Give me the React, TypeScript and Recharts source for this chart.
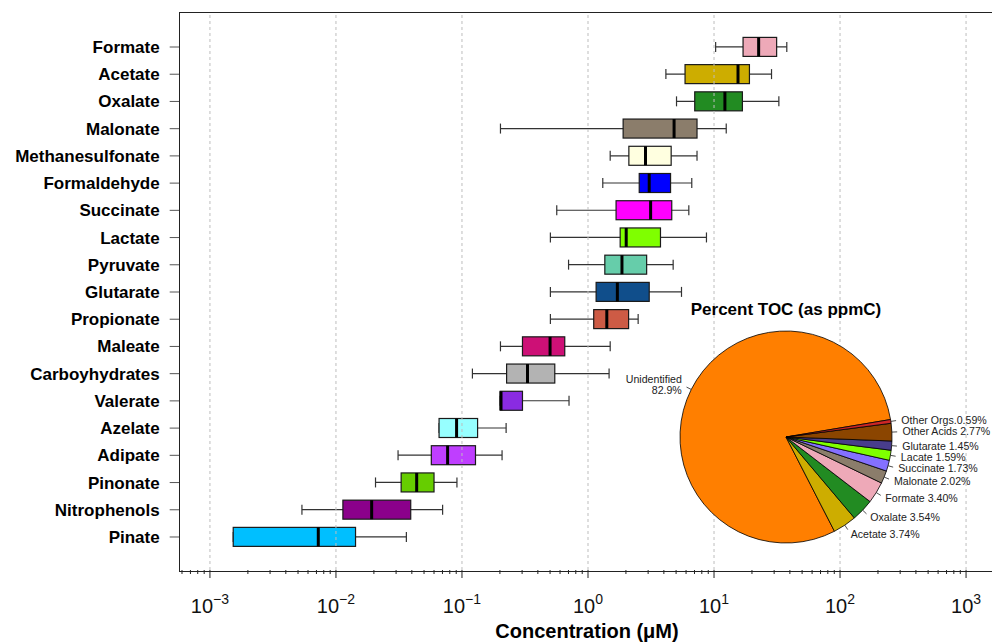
import React from "react";
import {
  Bar,
  Cell,
  ComposedChart,
  Pie,
  PieChart,
  ReferenceLine,
  XAxis,
  YAxis,
} from "recharts";

const FONT = '"Liberation Sans", Arial, Helvetica, sans-serif';

// Box plot statistics per compound (µM), top row first
const compounds = [
  "Formate",
  "Acetate",
  "Oxalate",
  "Malonate",
  "Methanesulfonate",
  "Formaldehyde",
  "Succinate",
  "Lactate",
  "Pyruvate",
  "Glutarate",
  "Propionate",
  "Maleate",
  "Carboyhydrates",
  "Valerate",
  "Azelate",
  "Adipate",
  "Pinonate",
  "Nitrophenols",
  "Pinate",
];
const whiskerLow = [
  10.3, 4.15, 5.04, 0.202, 1.5, 1.31, 0.565, 0.503, 0.701, 0.503, 0.503, 0.202,
  0.121, 0.201, 0.0658, 0.0311, 0.0206, 0.00537, 0.00153,
];
const lowerQuartile = [
  17.0, 5.89, 7.03, 1.9, 2.11, 2.55, 1.67, 1.8, 1.36, 1.16, 1.11, 0.302, 0.226,
  0.201, 0.0658, 0.0571, 0.0329, 0.01135, 0.00153,
];
const medians = [
  22.6, 15.5, 12.2, 4.82, 2.86, 3.06, 3.14, 2.01, 1.86, 1.71, 1.41, 0.5, 0.331,
  0.204, 0.0906, 0.0769, 0.0437, 0.0192, 0.00724,
];
const upperQuartile = [
  31.4, 19.1, 16.8, 7.33, 4.57, 4.52, 4.62, 3.76, 2.92, 3.06, 2.1, 0.654, 0.545,
  0.302, 0.133, 0.128, 0.06, 0.0392, 0.0143,
];
const whiskerHigh = [
  37.8, 28.6, 32.7, 12.5, 7.33, 6.66, 6.31, 8.71, 4.74, 5.52, 2.5, 1.5, 1.47,
  0.707, 0.224, 0.208, 0.0912, 0.0702, 0.0362,
];
const boxColors = [
  "#EEA9B8",
  "#CDAD00",
  "#228B22",
  "#8B7D6B",
  "#FFFFE0",
  "#0000FF",
  "#FF00FF",
  "#7FFF00",
  "#66CDAA",
  "#104E8B",
  "#CD5B45",
  "#CD1076",
  "#B3B3B3",
  "#8A2BE2",
  "#97FFFF",
  "#BF3EFF",
  "#66CD00",
  "#8B008B",
  "#00BFFF",
];

// Log axis: decades and their exponent labels
const decades = [1e-3, 1e-2, 1e-1, 1, 10, 100, 1000];
const decadeExponents = ["\u22123", "\u22122", "\u22121", "0", "1", "2", "3"];

// TOC pie, drawn counter-clockwise starting just above 3 o'clock
const pieNames = [
  "Unidentified",
  "Acetate",
  "Oxalate",
  "Formate",
  "Malonate",
  "Succinate",
  "Lacate",
  "Glutarate",
  "Other Acids",
  "Other Orgs",
];
const pieValues = [82.9, 3.74, 3.54, 3.4, 2.02, 1.73, 1.59, 1.45, 2.77, 0.59];
const pieLabels = [
  "Unidentified\n82.9%",
  "Acetate 3.74%",
  "Oxalate 3.54%",
  "Formate 3.40%",
  "Malonate 2.02%",
  "Succinate 1.73%",
  "Lacate 1.59%",
  "Glutarate 1.45%",
  "Other Acids 2.77%",
  "Other Orgs.0.59%",
];
const pieColors = [
  "#FF7F00",
  "#CDAD00",
  "#228B22",
  "#EEA9B8",
  "#8B7D6B",
  "#8470FF",
  "#7FFF00",
  "#483D8B",
  "#8B4500",
  "#CD2626",
];

const X_MIN = Math.pow(10, -3.24);
const X_MAX = Math.pow(10, 3.24);

// major + minor (2..9) tick positions inside the axis range
const axisTicks: number[] = [];
for (let e = -4; e <= 3; e++) {
  for (let m = 1; m <= 9; m++) {
    const v = m * Math.pow(10, e);
    if (v >= X_MIN && v <= X_MAX) axisTicks.push(v);
  }
}

const rows = compounds.map((name, i) => ({
  name,
  whisker: [whiskerLow[i], whiskerHigh[i]],
  box: [lowerQuartile[i], upperQuartile[i]],
  toMedian: [lowerQuartile[i], medians[i]],
}));

const pieData = pieNames.map((name, i) => ({ name, value: pieValues[i] }));

const BOX_H = 19;

function WhiskerShape(props: any) {
  const { x, y, width, height } = props;
  const cy = y + height / 2;
  const cap = 5;
  return (
    <g stroke="#333" strokeWidth={1.2}>
      <line x1={x} x2={x + width} y1={cy} y2={cy} />
      <line x1={x} x2={x} y1={cy - cap} y2={cy + cap} />
      <line x1={x + width} x2={x + width} y1={cy - cap} y2={cy + cap} />
    </g>
  );
}

function BoxShape(props: any) {
  const { x, y, width, height, fill } = props;
  return (
    <rect
      x={x}
      y={y}
      width={width}
      height={height}
      fill={fill}
      stroke="#1a1a1a"
      strokeWidth={1.2}
    />
  );
}

function MedianShape(props: any) {
  const { x, y, width, height } = props;
  const mx = x + width;
  return <line x1={mx} x2={mx} y1={y} y2={y + height} stroke="#000" strokeWidth={3} />;
}

function LogTick(props: any) {
  const { x, y, payload } = props;
  const lg = Math.log10(payload.value);
  const k = decades.findIndex((d) => Math.abs(Math.log10(d) - lg) < 1e-6);
  const major = k >= 0;
  return (
    <g>
      <line x1={x} x2={x} y1={y} y2={y + (major ? 8 : 4)} stroke="#222" strokeWidth={1} />
      {major && (
        <text x={x} y={y + 43} textAnchor="middle" fontSize={20} fill="#111" fontFamily={FONT}>
          10
          <tspan dy={-9} fontSize={14}>
            {decadeExponents[k]}
          </tspan>
        </text>
      )}
    </g>
  );
}

const RAD = Math.PI / 180;

function renderPieLabel(props: any) {
  const { cx, cy, midAngle, outerRadius, index } = props;
  const cos = Math.cos(-midAngle * RAD);
  const sin = Math.sin(-midAngle * RAD);
  const tx = cx + outerRadius * 1.1 * cos;
  const ty = cy + outerRadius * 1.1 * sin;
  const lines = pieLabels[index].split("\n");
  const first = 0.35 - (lines.length - 1) * 0.55;
  return (
    <g key={`lbl-${index}`}>
      <line
        x1={cx + outerRadius * cos}
        y1={cy + outerRadius * sin}
        x2={cx + outerRadius * 1.05 * cos}
        y2={cy + outerRadius * 1.05 * sin}
        stroke="#222"
        strokeWidth={0.8}
      />
      <text
        x={tx}
        y={ty}
        textAnchor={cos < 0 ? "end" : "start"}
        fontSize={10.6}
        fill="#222"
        fontFamily={FONT}
      >
        {lines.map((l, j) => (
          <tspan key={j} x={tx} dy={j === 0 ? `${first}em` : "1.1em"}>
            {l}
          </tspan>
        ))}
      </text>
    </g>
  );
}

export default function App() {
  return (
    <div
      style={{
        position: "absolute",
        left: 0,
        top: 0,
        width: 992,
        height: 643,
        overflow: "hidden",
        background: "#fff",
        fontFamily: FONT,
      }}
    >
      <ComposedChart
        width={1000}
        height={643}
        data={rows}
        layout="vertical"
        margin={{ top: 13, right: 3.7, bottom: 0, left: 0 }}
        barGap={-BOX_H}
      >
        <XAxis
          type="number"
          scale="log"
          domain={[X_MIN, X_MAX]}
          allowDataOverflow
          ticks={axisTicks}
          interval={0}
          tick={<LogTick />}
          tickLine={false}
          axisLine={false}
          tickSize={0}
          tickMargin={0}
          height={73}
        />
        <YAxis
          type="category"
          dataKey="name"
          width={179.7}
          interval={0}
          padding={{ top: 20.4, bottom: 19.4 }}
          tick={{ fill: "#000", fontSize: 17, fontWeight: "bold", fontFamily: FONT }}
          tickLine={{ stroke: "#555" }}
          tickSize={10}
          tickMargin={10}
          axisLine={false}
        />
        {decades.map((d) => (
          <ReferenceLine key={d} x={d} stroke="#BDBDBD" strokeDasharray="3 3" />
        ))}
        <Bar dataKey="whisker" barSize={BOX_H} shape={<WhiskerShape />} isAnimationActive={false} />
        <Bar dataKey="box" barSize={BOX_H} shape={<BoxShape />} isAnimationActive={false}>
          {rows.map((r, i) => (
            <Cell key={r.name} fill={boxColors[i]} />
          ))}
        </Bar>
        <Bar dataKey="toMedian" barSize={BOX_H} shape={<MedianShape />} isAnimationActive={false} />
      </ComposedChart>

      {/* plot frame */}
      <div
        style={{
          position: "absolute",
          left: 179,
          top: 12,
          width: 818,
          height: 558,
          border: "1px solid #222",
          pointerEvents: "none",
        }}
      />

      <div
        style={{
          position: "absolute",
          left: 387,
          top: 621,
          width: 400,
          textAlign: "center",
          fontSize: 20,
          fontWeight: "bold",
          lineHeight: "20px",
          color: "#000",
        }}
      >
        Concentration (μM)
      </div>

      <div style={{ position: "absolute", left: 600, top: 280 }}>
        <div
          style={{
            position: "absolute",
            left: 36,
            top: 21,
            width: 300,
            textAlign: "center",
            fontSize: 17,
            fontWeight: "bold",
            lineHeight: "17px",
            color: "#000",
          }}
        >
          Percent TOC (as ppmC)
        </div>
        <PieChart width={392} height={290} margin={{ top: 0, right: 0, bottom: 0, left: 0 }}>
          <Pie
            data={pieData}
            dataKey="value"
            nameKey="name"
            cx={186}
            cy={157}
            outerRadius={106}
            startAngle={9.5}
            endAngle={369.5}
            stroke="#000"
            strokeWidth={0.8}
            label={renderPieLabel}
            labelLine={false}
            isAnimationActive={false}
          >
            {pieData.map((p, i) => (
              <Cell key={p.name} fill={pieColors[i]} />
            ))}
          </Pie>
        </PieChart>
      </div>
    </div>
  );
}
